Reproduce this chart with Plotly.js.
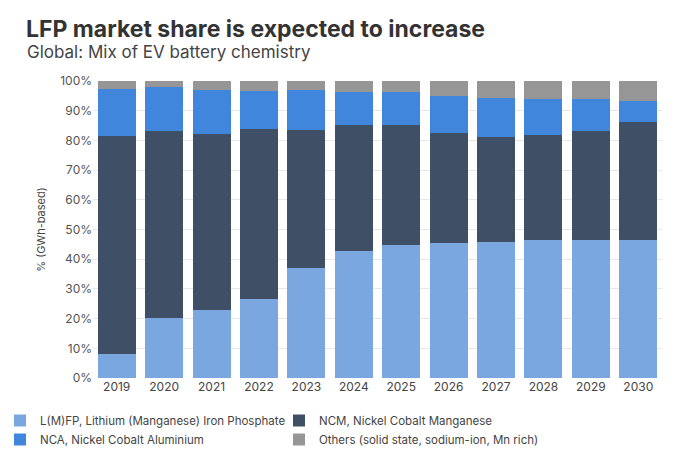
<!DOCTYPE html>
<html>
<head>
<meta charset="utf-8">
<script src="https://cdn.plot.ly/plotly-3.0.1.min.js"></script>
<style>html,body{margin:0;padding:0;background:#fff;}#chart{width:700px;height:450px;}</style>
</head>
<body>
<div id="chart"></div>
<script>
const years = ["2019","2020","2021","2022","2023","2024","2025","2026","2027","2028","2029","2030"];
const lfp    = [8.2, 20.2, 22.8, 26.6, 37.1, 42.9, 44.8, 45.3, 45.8, 46.3, 46.3, 46.3];
const ncm    = [73.3, 62.9, 59.4, 57.1, 46.3, 42.2, 40.4, 37.3, 35.5, 35.6, 36.8, 39.9];
const nca    = [15.7, 15.0, 14.7, 12.8, 13.7, 11.3, 11.1, 12.5, 13.1, 12.1, 10.9, 6.9];
const others = [2.8, 1.9, 3.1, 3.5, 2.9, 3.6, 3.7, 4.9, 5.6, 6.0, 6.0, 6.9];
const names = ["L(M)FP, Lithium (Manganese) Iron Phosphate", "NCM, Nickel Cobalt Manganese", "NCA, Nickel Cobalt Aluminium", "Others (solid state, sodium-ion, Mn rich)"];
const colors = ["#7BA7E0", "#3F5066", "#4186DD", "#969696"];
const series = [lfp, ncm, nca, others];

const traces = series.map((vals, i) => ({
  type: "bar",
  x: years,
  y: vals,
  name: names[i],
  marker: {color: colors[i], line: {width: 0}},
  hoverinfo: "x+y+name"
}));

const font = "Inter, 'Noto Sans', sans-serif";
const layout = {
  width: 700, height: 450,
  barmode: "stack",
  bargap: 0.2,
  paper_bgcolor: "#fff", plot_bgcolor: "#fff",
  font: {family: font, color: "#444", size: 12},
  margin: {l: 93, r: 38, t: 81, b: 72, autoexpand: false},
  title: {
    text: "<b>LFP market share is expected to increase</b>",
    font: {family: font, size: 23, color: "#333"},
    xref: "container", yref: "container",
    x: 26/700, xanchor: "left",
    y: 1 - 29/450, yanchor: "middle"
  },
  annotations: [{
    text: "Global: Mix of EV battery chemistry",
    xref: "paper", yref: "paper",
    x: (25-93)/569, xanchor: "left",
    y: 1 + (81-52)/297, yanchor: "middle",
    showarrow: false,
    font: {family: font, size: 17, color: "#444"}
  }],
  xaxis: {
    type: "category",
    tickfont: {size: 12, color: "#444"},
    showgrid: false, zeroline: false, showline: false,
    ticks: ""
  },
  yaxis: {
    range: [0, 100],
    dtick: 10,
    ticksuffix: "%",
    tickfont: {size: 12, color: "#555"},
    gridcolor: "#e8e8e8",
    zeroline: false, showline: false,
    title: {text: "% (GWh-based)", font: {size: 11, color: "#444"}, standoff: 12}
  },
  legend: {
    orientation: "h",
    xref: "container", yref: "container",
    x: 0, xanchor: "left",
    y: 1 - 406/450, yanchor: "top",
    traceorder: "normal",
    entrywidth: 234,
    font: {size: 11.5, color: "#444"},
    itemwidth: 30,
    tracegroupgap: 0
  },
  showlegend: true
};

Plotly.newPlot("chart", traces, layout, {displayModeBar: false, staticPlot: true});
</script>
</body>
</html>
